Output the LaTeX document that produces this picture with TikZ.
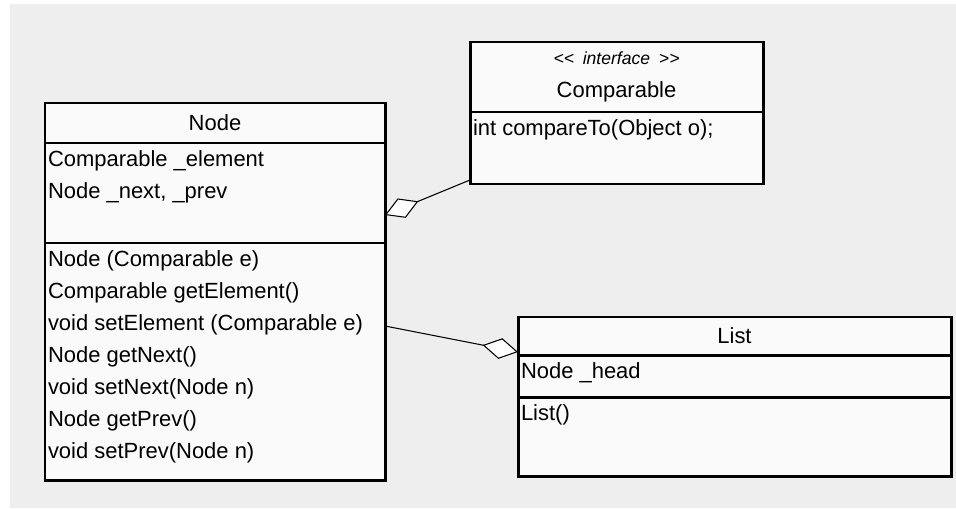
\documentclass[tikz,border=0pt]{standalone}
\usepackage{fontspec}
\setmainfont{Liberation Sans}
\usetikzlibrary{arrows.meta, positioning}
\definecolor{canvas}{HTML}{EEEEEE}
\definecolor{boxfill}{HTML}{FAFAFA}

\begin{document}
\begin{tikzpicture}[
    every node/.style={font=\fontsize{12.5}{18.2}\selectfont, outer sep=0pt},
    classpart/.style={rectangle, draw=black, line width=1.7pt, fill=boxfill, inner sep=0pt},
    members/.style={anchor=north west, align=left, inner xsep=0.06cm, inner ysep=0.9pt},
    aggr/.style={line width=0.6pt},
    agg/.tip={Diamond[fill=white, length=0.72cm, width=0.42cm]},
]

% ── Canvas ───────────────────────────────────────────────────
\useasboundingbox (0,0) rectangle (19.12,-10.16);
\fill[white]  (0,0) rectangle (19.12,-10.16);
\fill[canvas] (0.2,-0.08) rectangle (19.12,-10.16);

% ── Class Node ───────────────────────────────────────────────
\node[classpart, minimum width=6.8cm, minimum height=0.8cm, anchor=north west]
      (nodeHead) at (0.9,-2.06) {Node};
\node[classpart, minimum width=6.8cm, minimum height=2cm, below=0pt of nodeHead]   (nodeAttr) {};
\node[classpart, minimum width=6.8cm, minimum height=4.74cm, below=0pt of nodeAttr] (nodeOps)  {};
\node[members] (nodeAttrTxt) at (nodeAttr.north west)
      {\strut Comparable \_element\\Node \_next, \_prev};
\node[members] (nodeOpsTxt) at (nodeOps.north west)
      {\strut Node (Comparable e)\\Comparable getElement()\\void setElement (Comparable e)\\
       Node getNext()\\void setNext(Node n)\\Node getPrev()\\void setPrev(Node n)};

% ── Interface Comparable ─────────────────────────────────────
\node[classpart, minimum width=5.86cm, minimum height=1.4cm, anchor=north west, align=center]
      (cmpHead) at (9.4,-0.84)
      {{\fontsize{10}{12}\selectfont\itshape <\kern0pt<\enspace interface\enspace >\kern0pt>}\\[1pt]Comparable};
\node[classpart, minimum width=5.86cm, minimum height=1.44cm, below=0pt of cmpHead] (cmpOps) {};
\node[members] (cmpOpsTxt) at (cmpOps.north west) {\strut int compareTo(Object o);};

% ── Class List ───────────────────────────────────────────────
\node[classpart, minimum width=8.66cm, minimum height=0.76cm, anchor=north west]
      (listHead) at (10.36,-6.34) {List};
\node[classpart, minimum width=8.66cm, minimum height=0.84cm, below=0pt of listHead] (listAttr) {};
\node[classpart, minimum width=8.66cm, minimum height=1.58cm, below=0pt of listAttr] (listOps)  {};
\node[members] (listAttrTxt) at (listAttr.north west) {\strut Node \_head};
\node[members] (listOpsTxt)  at (listOps.north west)  {\strut List()};

% ── Aggregations ─────────────────────────────────────────────
\draw[aggr, {agg}-] ([yshift=0.56cm]nodeAttr.south east) -- ([yshift=0.08cm]cmpOps.south west);
\draw[aggr, -{agg}] ([yshift=-1.66cm]nodeOps.north east) -- ([yshift=0.06cm]listHead.south west);

\end{tikzpicture}
\end{document}
